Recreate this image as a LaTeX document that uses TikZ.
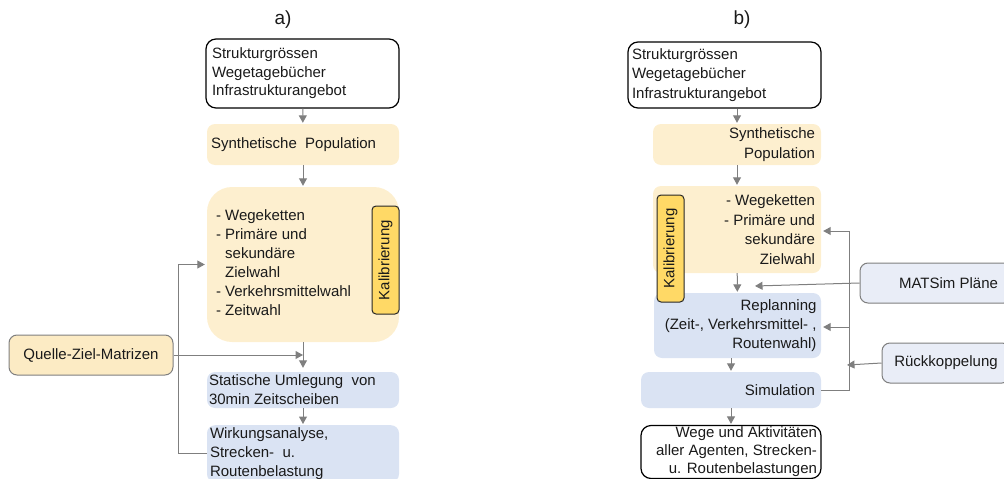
\documentclass[tikz,border=0pt]{standalone}
\usepackage{fontspec}
\setmainfont{Liberation Sans}
\usetikzlibrary{arrows.meta,calc}
\definecolor{yel}{HTML}{FDEFCF}
\definecolor{blu}{HTML}{DAE3F3}
\definecolor{gold}{HTML}{FFD966}
\definecolor{arrg}{HTML}{7F7F7F}
\definecolor{lblu}{HTML}{E9EDF7}
\definecolor{qyel}{HTML}{FCEBC4}
\definecolor{txt}{HTML}{1A1A1A}
\begin{document}
\begin{tikzpicture}[x=1pt,y=-1pt,
  every node/.style={text=txt},
  fz/.style={font=\fontsize{15}{19}\selectfont},
  wbox/.style={draw=black, line width=1.2pt, fill=white, rounded corners=10pt, inner ysep=0pt},
  ybox/.style={fill=yel, rounded corners=8pt, inner ysep=0pt},
  bbox/.style={fill=blu, rounded corners=8pt, inner ysep=0pt},
  arr/.style={draw=arrg, line width=1pt, shorten >=1pt, -{Triangle[length=7.5pt,width=8pt]}},
  kal/.style={draw=black!85, line width=1pt, fill=gold, rounded corners=4pt, rotate=90, minimum height=27pt, inner sep=0pt},
  side/.style={draw=arrg, line width=1pt, rounded corners=8pt, minimum height=40pt, inner ysep=0pt},
]
\useasboundingbox (0,0) rectangle (1004,479);

% ---------- panel a ----------
\node[font=\fontsize{19}{22}\selectfont] (ta) at (283,20) {a)};
\node[wbox,text width=181pt,inner xsep=6pt,minimum height=69pt,align=flush left,font=\fontsize{15}{18.5}\selectfont] (a1) at (302.5,73.5) {Strukturgrössen\\Wegetagebücher\\Infrastrukturangebot};
\node[ybox,fz,text width=184pt,inner xsep=4pt,minimum height=41pt,align=flush left] (a2) at (303,144.5) {Synthetische\ \ Population};
\node[ybox,rounded corners=25pt,fz,text width=174pt,inner xsep=9pt,minimum height=155pt,align=flush left] (a3) at (303,264.5) {\begin{tabular}{@{}l@{\ }l@{}}-&Wegeketten\\-&Primäre und\\&sekundäre\\&Zielwahl\\-&Verkehrsmittelwahl\\-&Zeitwahl\end{tabular}};
\node[kal,fz,minimum width=108pt] (ka) at (385.5,260) {Kalibrierung};
\node[side,fill=qyel,fz,minimum width=164pt,inner xsep=0pt] (q) at (91,355) {Quelle-Ziel-Matrizen};
\node[bbox,fz,text width=188pt,inner xsep=2pt,minimum height=36pt,align=flush left] (a4) at (303,390) {Statische Umlegung\ \ von\\30min Zeitscheiben};
\node[bbox,fz,text width=186pt,inner xsep=3pt,minimum height=57pt,align=flush left,anchor=north] (a5) at (303,425) {Wirkungsanalyse,\\Strecken-\ \ u.\\Routenbelastung};

\draw[arr] (a1) -- (a2);
\draw[arr] (a2) -- (a3);
\draw[arr,shorten >=4pt] (a3) -- (a4);
\draw[arr] (a4) -- (a5);
\coordinate (qt) at (303,355);
\draw[arr,shorten >=0pt] (q) -- (qt);
\draw[arr] ([yshift=-28pt]a5.north west) -- ++(-28,0) |- ([xshift=-1pt]a3.west);

% ---------- panel b ----------
\node[font=\fontsize{19}{22}\selectfont] (tb) at (742,20) {b)};
\node[wbox,text width=185pt,inner xsep=4pt,minimum height=66pt,align=flush left,font=\fontsize{15}{19.5}\selectfont] (b1) at (724.5,75) {Strukturgrössen\\Wegetagebücher\\Infrastrukturangebot};
\node[ybox,text width=156pt,inner xsep=6pt,minimum height=41pt,align=flush right,font=\fontsize{15}{20}\selectfont] (b2) at (737,144.5) {Synthetische\\Population};
\node[ybox,text width=156pt,inner xsep=6pt,minimum height=87pt,align=flush right,font=\fontsize{15}{19.7}\selectfont] (b3) at (737,229.5) {- Wegeketten\\- Primäre und\\sekundäre\\Zielwahl};
\node[bbox,text width=158pt,inner xsep=4.5pt,minimum height=65pt,align=flush right,font=\fontsize{15}{19}\selectfont] (b4) at (737.5,325.5) {Replanning\\(Zeit-, Verkehrsmittel-\ ,\\Routenwahl)};
\node[kal,fz,minimum width=107pt] (kb) at (670.5,248.5) {Kalibrierung};
\node[bbox,fz,text width=168pt,inner xsep=6pt,minimum height=36pt,align=flush right] (b5) at (731,390) {Simulation};
\node[wbox,text width=172pt,inner xsep=4pt,minimum height=53pt,align=flush right,font=\fontsize{15}{18}\selectfont] (b6) at (731,452) {Wege und Aktivitäten\\aller Agenten, Strecken-\\u. Routenbelastungen};
\node[side,fill=lblu,fz,text width=124pt,inner xsep=14pt,align=flush right] (ms) at (936,283) {MATSim Pläne};
\node[side,fill=lblu,fz,minimum width=128pt,inner xsep=0pt] (rk) at (946,363) {Rückkoppelung};

\draw[arr] (b1.south -| b2.north) -- (b2.north);
\draw[arr] (b2) -- (b3);
\draw[arr] (b3) -- (b4);
\draw[arr] (b4.south -| b5.north) -- (b5.north);
\draw[arr] (b5) -- (b6);
\coordinate (mst) at (755,286);
\draw[arr,shorten >=0pt] (ms.west) -- (mst);
\coordinate (rkt) at (847,365);
\draw[arr,shorten >=0pt] (rk.west) -- (rkt);
\coordinate (fbt) at (849,231);
\coordinate (fbm) at (849,327);
\draw[arr,shorten >=0pt] (b5.east) -| (fbt) -- ([xshift=2pt]b3.east |- fbt);
\draw[arr,shorten >=0pt] (fbm) -- ([xshift=2pt]b4.east |- fbm);
\end{tikzpicture}
\end{document}
